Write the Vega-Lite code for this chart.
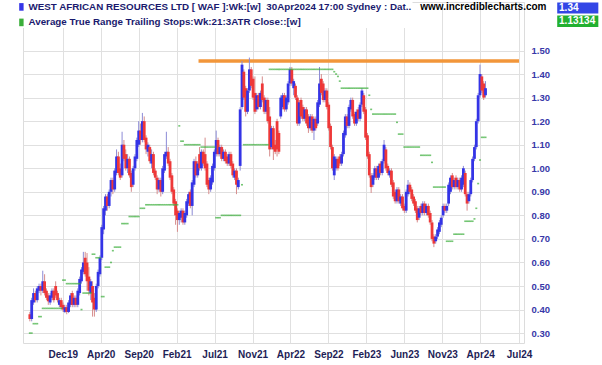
{
  "$schema": "https://vega.github.io/schema/vega-lite/v6.json",
  "width": 501,
  "height": 341,
  "autosize": "none",
  "padding": {"left": 23, "top": 2, "right": 78, "bottom": 22},
  "background": "white",
  "config": {
    "view": {"stroke": "#dcdcdc", "strokeWidth": 1},
    "font": "Liberation Sans",
    "axis": {"labelOverlap": false},
    "axisQuantitative": {"labelOverlap": false, "tickCount": 13}
  },
  "datasets": {
    "weekly": [
{"d":"2019-08-05","o":0.38,"h":0.39,"l":0.35,"c":0.36,"s":0.30},
{"d":"2019-08-12","o":0.36,"h":0.45,"l":0.35,"c":0.44,"s":0.30},
{"d":"2019-08-19","o":0.43,"h":0.49,"l":0.42,"c":0.47,"s":0.34},
{"d":"2019-08-26","o":0.47,"h":0.48,"l":0.43,"c":0.44,"s":0.34},
{"d":"2019-09-02","o":0.44,"h":0.50,"l":0.43,"c":0.49,"s":0.34},
{"d":"2019-09-09","o":0.48,"h":0.51,"l":0.47,"c":0.50,"s":0.37},
{"d":"2019-09-16","o":0.50,"h":0.51,"l":0.46,"c":0.48,"s":0.37},
{"d":"2019-09-23","o":0.48,"h":0.565,"l":0.47,"c":0.52,"s":0.405},
{"d":"2019-09-30","o":0.52,"h":0.55,"l":0.46,"c":0.47,"s":0.405},
{"d":"2019-10-07","o":0.48,"h":0.49,"l":0.44,"c":0.45,"s":0.405},
{"d":"2019-10-14","o":0.46,"h":0.47,"l":0.42,"c":0.435,"s":0.405},
{"d":"2019-10-21","o":0.43,"h":0.47,"l":0.42,"c":0.46,"s":0.405},
{"d":"2019-10-28","o":0.45,"h":0.49,"l":0.44,"c":0.48,"s":0.405},
{"d":"2019-11-04","o":0.48,"h":0.49,"l":0.43,"c":0.44,"s":0.405},
{"d":"2019-11-11","o":0.50,"h":0.52,"l":0.45,"c":0.46,"s":0.405},
{"d":"2019-11-18","o":0.47,"h":0.48,"l":0.43,"c":0.44,"s":0.405},
{"d":"2019-11-25","o":0.42,"h":0.45,"l":0.41,"c":0.44,"s":0.405},
{"d":"2019-12-02","o":0.44,"h":0.45,"l":0.40,"c":0.41,"s":0.405},
{"d":"2019-12-09","o":0.42,"h":0.43,"l":0.39,"c":0.40,"s":0.525},
{"d":"2019-12-16","o":0.39,"h":0.42,"l":0.385,"c":0.41,"s":0.525},
{"d":"2019-12-23","o":0.41,"h":0.42,"l":0.38,"c":0.39,"s":0.51},
{"d":"2019-12-30","o":0.39,"h":0.44,"l":0.385,"c":0.43,"s":0.51},
{"d":"2020-01-06","o":0.42,"h":0.47,"l":0.41,"c":0.46,"s":0.51},
{"d":"2020-01-13","o":0.47,"h":0.48,"l":0.41,"c":0.42,"s":0.51},
{"d":"2020-01-20","o":0.42,"h":0.46,"l":0.41,"c":0.45,"s":0.51},
{"d":"2020-01-27","o":0.45,"h":0.46,"l":0.41,"c":0.42,"s":0.51},
{"d":"2020-02-03","o":0.42,"h":0.49,"l":0.41,"c":0.48,"s":0.51},
{"d":"2020-02-10","o":0.47,"h":0.54,"l":0.46,"c":0.53,"s":0.51},
{"d":"2020-02-17","o":0.52,"h":0.58,"l":0.51,"c":0.57,"s":0.40},
{"d":"2020-02-24","o":0.56,"h":0.645,"l":0.55,"c":0.60,"s":0.47},
{"d":"2020-03-02","o":0.62,"h":0.645,"l":0.54,"c":0.55,"s":0.47},
{"d":"2020-03-09","o":0.60,"h":0.64,"l":0.48,"c":0.52,"s":0.47},
{"d":"2020-03-16","o":0.54,"h":0.58,"l":0.46,"c":0.48,"s":0.47},
{"d":"2020-03-23","o":0.47,"h":0.53,"l":0.44,"c":0.52,"s":0.47},
{"d":"2020-03-30","o":0.50,"h":0.52,"l":0.37,"c":0.43,"s":0.635},
{"d":"2020-04-06","o":0.45,"h":0.47,"l":0.37,"c":0.40,"s":0.635},
{"d":"2020-04-13","o":0.40,"h":0.51,"l":0.39,"c":0.50,"s":0.62},
{"d":"2020-04-20","o":0.50,"h":0.57,"l":0.49,"c":0.56,"s":0.62},
{"d":"2020-04-27","o":0.55,"h":0.63,"l":0.54,"c":0.62,"s":0.62},
{"d":"2020-05-04","o":0.62,"h":0.76,"l":0.61,"c":0.75,"s":0.455},
{"d":"2020-05-11","o":0.74,"h":0.84,"l":0.72,"c":0.83,"s":0.455},
{"d":"2020-05-18","o":0.82,"h":0.89,"l":0.80,"c":0.88,"s":0.58},
{"d":"2020-05-25","o":0.88,"h":0.89,"l":0.82,"c":0.84,"s":0.58},
{"d":"2020-06-01","o":0.84,"h":0.91,"l":0.83,"c":0.90,"s":0.58},
{"d":"2020-06-08","o":0.90,"h":0.96,"l":0.88,"c":0.95,"s":0.60},
{"d":"2020-06-15","o":0.95,"h":0.96,"l":0.89,"c":0.91,"s":0.65},
{"d":"2020-06-22","o":0.91,"h":1.00,"l":0.90,"c":0.99,"s":0.665},
{"d":"2020-06-29","o":0.98,"h":1.08,"l":0.97,"c":1.05,"s":0.665},
{"d":"2020-07-06","o":1.05,"h":1.07,"l":0.97,"c":0.98,"s":0.665},
{"d":"2020-07-13","o":1.00,"h":1.02,"l":0.95,"c":0.96,"s":0.665},
{"d":"2020-07-20","o":0.97,"h":1.155,"l":0.96,"c":1.10,"s":0.765},
{"d":"2020-07-27","o":1.10,"h":1.12,"l":1.03,"c":1.04,"s":0.765},
{"d":"2020-08-03","o":1.06,"h":1.08,"l":0.99,"c":1.00,"s":0.765},
{"d":"2020-08-10","o":1.00,"h":1.06,"l":0.98,"c":1.04,"s":0.765},
{"d":"2020-08-17","o":1.04,"h":1.05,"l":0.96,"c":0.97,"s":0.795},
{"d":"2020-08-24","o":0.98,"h":0.99,"l":0.90,"c":0.92,"s":0.795},
{"d":"2020-08-31","o":0.93,"h":1.01,"l":0.92,"c":1.00,"s":0.795},
{"d":"2020-09-07","o":1.00,"h":1.06,"l":0.99,"c":1.05,"s":0.795},
{"d":"2020-09-14","o":1.04,"h":1.13,"l":1.03,"c":1.12,"s":0.795},
{"d":"2020-09-21","o":1.10,"h":1.20,"l":1.09,"c":1.16,"s":0.795},
{"d":"2020-09-28","o":1.16,"h":1.19,"l":1.10,"c":1.12,"s":0.83},
{"d":"2020-10-05","o":1.12,"h":1.235,"l":1.11,"c":1.20,"s":0.83},
{"d":"2020-10-12","o":1.20,"h":1.22,"l":1.11,"c":1.12,"s":0.83},
{"d":"2020-10-19","o":1.13,"h":1.14,"l":1.06,"c":1.08,"s":0.845},
{"d":"2020-10-26","o":1.07,"h":1.11,"l":1.05,"c":1.10,"s":0.845},
{"d":"2020-11-02","o":1.09,"h":1.10,"l":1.02,"c":1.03,"s":0.845},
{"d":"2020-11-09","o":1.02,"h":1.08,"l":1.00,"c":1.06,"s":0.845},
{"d":"2020-11-16","o":1.06,"h":1.07,"l":0.97,"c":0.98,"s":0.845},
{"d":"2020-11-23","o":0.99,"h":1.00,"l":0.95,"c":0.96,"s":0.845},
{"d":"2020-11-30","o":0.96,"h":0.97,"l":0.89,"c":0.91,"s":0.845},
{"d":"2020-12-07","o":0.91,"h":0.96,"l":0.90,"c":0.95,"s":0.845},
{"d":"2020-12-14","o":0.95,"h":0.96,"l":0.88,"c":0.90,"s":0.845},
{"d":"2020-12-21","o":0.90,"h":1.01,"l":0.89,"c":1.00,"s":0.845},
{"d":"2020-12-28","o":0.99,"h":1.07,"l":0.98,"c":1.06,"s":0.845},
{"d":"2021-01-04","o":1.05,"h":1.155,"l":1.04,"c":1.07,"s":0.845},
{"d":"2021-01-11","o":1.07,"h":1.09,"l":1.01,"c":1.02,"s":0.845},
{"d":"2021-01-18","o":1.03,"h":1.04,"l":0.95,"c":0.96,"s":0.845},
{"d":"2021-01-25","o":0.97,"h":0.98,"l":0.89,"c":0.90,"s":0.845},
{"d":"2021-02-01","o":0.91,"h":0.92,"l":0.84,"c":0.85,"s":0.845},
{"d":"2021-02-08","o":0.86,"h":0.87,"l":0.76,"c":0.80,"s":0.845},
{"d":"2021-02-15","o":0.82,"h":0.83,"l":0.73,"c":0.78,"s":0.845},
{"d":"2021-02-22","o":0.78,"h":0.82,"l":0.76,"c":0.81,"s":1.18},
{"d":"2021-03-01","o":0.79,"h":0.83,"l":0.77,"c":0.82,"s":1.115},
{"d":"2021-03-08","o":0.82,"h":0.83,"l":0.76,"c":0.77,"s":1.115},
{"d":"2021-03-15","o":0.77,"h":0.82,"l":0.76,"c":0.81,"s":1.10},
{"d":"2021-03-22","o":0.80,"h":0.87,"l":0.79,"c":0.86,"s":1.10},
{"d":"2021-03-29","o":0.85,"h":0.90,"l":0.84,"c":0.89,"s":1.10},
{"d":"2021-04-05","o":0.90,"h":0.91,"l":0.83,"c":0.84,"s":1.10},
{"d":"2021-04-12","o":0.84,"h":0.95,"l":0.80,"c":0.94,"s":1.10},
{"d":"2021-04-19","o":0.93,"h":1.04,"l":0.92,"c":1.03,"s":1.10},
{"d":"2021-04-26","o":1.03,"h":1.05,"l":0.96,"c":0.97,"s":1.10},
{"d":"2021-05-03","o":0.97,"h":1.03,"l":0.96,"c":1.02,"s":1.10},
{"d":"2021-05-10","o":1.06,"h":1.09,"l":0.99,"c":1.00,"s":1.10},
{"d":"2021-05-17","o":1.00,"h":1.08,"l":0.99,"c":1.07,"s":1.09},
{"d":"2021-05-24","o":1.07,"h":1.08,"l":1.01,"c":1.02,"s":1.09},
{"d":"2021-05-31","o":1.06,"h":1.13,"l":0.99,"c":1.00,"s":1.09},
{"d":"2021-06-07","o":1.02,"h":1.03,"l":0.92,"c":0.93,"s":1.09},
{"d":"2021-06-14","o":0.95,"h":0.96,"l":0.89,"c":0.91,"s":1.09},
{"d":"2021-06-21","o":0.91,"h":0.97,"l":0.90,"c":0.96,"s":1.09},
{"d":"2021-06-28","o":0.94,"h":1.02,"l":0.93,"c":1.01,"s":1.09},
{"d":"2021-07-05","o":1.00,"h":1.08,"l":0.99,"c":1.07,"s":1.09},
{"d":"2021-07-12","o":1.06,"h":1.16,"l":1.05,"c":1.12,"s":0.79},
{"d":"2021-07-19","o":1.12,"h":1.13,"l":1.05,"c":1.06,"s":0.79},
{"d":"2021-07-26","o":1.06,"h":1.10,"l":1.05,"c":1.09,"s":0.79},
{"d":"2021-08-02","o":1.09,"h":1.10,"l":1.03,"c":1.04,"s":0.80},
{"d":"2021-08-09","o":1.04,"h":1.08,"l":1.03,"c":1.07,"s":0.80},
{"d":"2021-08-16","o":1.07,"h":1.08,"l":1.02,"c":1.03,"s":0.80},
{"d":"2021-08-23","o":1.05,"h":1.06,"l":1.01,"c":1.02,"s":0.80},
{"d":"2021-08-30","o":1.02,"h":1.07,"l":1.01,"c":1.06,"s":0.80},
{"d":"2021-09-06","o":1.06,"h":1.07,"l":1.00,"c":1.01,"s":0.80},
{"d":"2021-09-13","o":1.02,"h":1.03,"l":0.96,"c":0.97,"s":0.80},
{"d":"2021-09-20","o":0.96,"h":1.00,"l":0.95,"c":0.99,"s":0.80},
{"d":"2021-09-27","o":0.99,"h":1.00,"l":0.89,"c":0.93,"s":0.80},
{"d":"2021-10-04","o":0.92,"h":0.96,"l":0.91,"c":0.95,"s":0.80},
{"d":"2021-10-11","o":1.01,"h":1.26,"l":0.99,"c":1.25,"s":0.80},
{"d":"2021-10-18","o":1.26,"h":1.455,"l":1.25,"c":1.44,"s":0.93},
{"d":"2021-10-25","o":1.41,"h":1.42,"l":1.29,"c":1.30,"s":1.10},
{"d":"2021-11-01","o":1.34,"h":1.35,"l":1.22,"c":1.24,"s":1.10},
{"d":"2021-11-08","o":1.24,"h":1.34,"l":1.23,"c":1.33,"s":1.10},
{"d":"2021-11-15","o":1.33,"h":1.47,"l":1.32,"c":1.42,"s":1.10},
{"d":"2021-11-22","o":1.42,"h":1.43,"l":1.34,"c":1.35,"s":1.10},
{"d":"2021-11-29","o":1.38,"h":1.39,"l":1.29,"c":1.30,"s":1.10},
{"d":"2021-12-06","o":1.32,"h":1.39,"l":1.23,"c":1.24,"s":1.10},
{"d":"2021-12-13","o":1.25,"h":1.32,"l":1.24,"c":1.31,"s":1.10},
{"d":"2021-12-20","o":1.31,"h":1.32,"l":1.25,"c":1.26,"s":1.10},
{"d":"2021-12-27","o":1.26,"h":1.33,"l":1.25,"c":1.32,"s":1.10},
{"d":"2022-01-03","o":1.36,"h":1.39,"l":1.28,"c":1.29,"s":1.10},
{"d":"2022-01-10","o":1.30,"h":1.31,"l":1.23,"c":1.24,"s":1.10},
{"d":"2022-01-17","o":1.24,"h":1.30,"l":1.23,"c":1.29,"s":1.10},
{"d":"2022-01-24","o":1.29,"h":1.30,"l":1.19,"c":1.20,"s":1.10},
{"d":"2022-01-31","o":1.22,"h":1.26,"l":1.05,"c":1.08,"s":1.42},
{"d":"2022-02-07","o":1.09,"h":1.18,"l":1.08,"c":1.17,"s":1.42},
{"d":"2022-02-14","o":1.17,"h":1.18,"l":1.035,"c":1.08,"s":1.42},
{"d":"2022-02-21","o":1.10,"h":1.12,"l":1.06,"c":1.07,"s":1.42},
{"d":"2022-02-28","o":1.20,"h":1.21,"l":1.05,"c":1.08,"s":1.42},
{"d":"2022-03-07","o":1.15,"h":1.16,"l":1.06,"c":1.07,"s":1.42},
{"d":"2022-03-14","o":1.22,"h":1.31,"l":1.21,"c":1.30,"s":1.42},
{"d":"2022-03-21","o":1.26,"h":1.32,"l":1.25,"c":1.31,"s":1.42},
{"d":"2022-03-28","o":1.31,"h":1.32,"l":1.24,"c":1.25,"s":1.42},
{"d":"2022-04-04","o":1.25,"h":1.31,"l":1.24,"c":1.30,"s":1.42},
{"d":"2022-04-11","o":1.28,"h":1.37,"l":1.27,"c":1.36,"s":1.42},
{"d":"2022-04-18","o":1.36,"h":1.43,"l":1.35,"c":1.42,"s":1.42},
{"d":"2022-04-25","o":1.42,"h":1.43,"l":1.35,"c":1.36,"s":1.42},
{"d":"2022-05-02","o":1.34,"h":1.38,"l":1.31,"c":1.37,"s":1.42},
{"d":"2022-05-09","o":1.35,"h":1.36,"l":1.29,"c":1.30,"s":1.42},
{"d":"2022-05-16","o":1.30,"h":1.31,"l":1.18,"c":1.19,"s":1.42},
{"d":"2022-05-23","o":1.19,"h":1.29,"l":1.18,"c":1.28,"s":1.42},
{"d":"2022-05-30","o":1.29,"h":1.30,"l":1.21,"c":1.22,"s":1.42},
{"d":"2022-06-06","o":1.26,"h":1.27,"l":1.20,"c":1.21,"s":1.42},
{"d":"2022-06-13","o":1.21,"h":1.26,"l":1.20,"c":1.25,"s":1.42},
{"d":"2022-06-20","o":1.25,"h":1.26,"l":1.18,"c":1.19,"s":1.42},
{"d":"2022-06-27","o":1.22,"h":1.23,"l":1.15,"c":1.17,"s":1.42},
{"d":"2022-07-04","o":1.17,"h":1.23,"l":1.16,"c":1.22,"s":1.42},
{"d":"2022-07-11","o":1.22,"h":1.23,"l":1.15,"c":1.16,"s":1.42},
{"d":"2022-07-18","o":1.16,"h":1.22,"l":1.12,"c":1.21,"s":1.42},
{"d":"2022-07-25","o":1.21,"h":1.22,"l":1.16,"c":1.17,"s":1.42},
{"d":"2022-08-01","o":1.19,"h":1.29,"l":1.18,"c":1.28,"s":1.42},
{"d":"2022-08-08","o":1.27,"h":1.43,"l":1.26,"c":1.36,"s":1.42},
{"d":"2022-08-15","o":1.38,"h":1.40,"l":1.31,"c":1.32,"s":1.42},
{"d":"2022-08-22","o":1.36,"h":1.37,"l":1.28,"c":1.29,"s":1.42},
{"d":"2022-08-29","o":1.29,"h":1.34,"l":1.28,"c":1.33,"s":1.42},
{"d":"2022-09-05","o":1.33,"h":1.34,"l":1.25,"c":1.26,"s":1.42},
{"d":"2022-09-12","o":1.27,"h":1.28,"l":1.16,"c":1.17,"s":1.42},
{"d":"2022-09-19","o":1.18,"h":1.19,"l":1.08,"c":1.09,"s":1.42},
{"d":"2022-09-26","o":1.09,"h":1.10,"l":0.99,"c":1.00,"s":1.42},
{"d":"2022-10-03","o":0.97,"h":1.06,"l":0.95,"c":1.05,"s":1.41},
{"d":"2022-10-10","o":1.00,"h":1.05,"l":0.99,"c":1.04,"s":1.40},
{"d":"2022-10-17","o":1.04,"h":1.05,"l":0.99,"c":1.00,"s":1.39},
{"d":"2022-10-24","o":1.05,"h":1.06,"l":1.01,"c":1.02,"s":1.37},
{"d":"2022-10-31","o":1.02,"h":1.07,"l":1.01,"c":1.06,"s":1.34},
{"d":"2022-11-07","o":1.06,"h":1.16,"l":1.05,"c":1.15,"s":1.34},
{"d":"2022-11-14","o":1.14,"h":1.23,"l":1.13,"c":1.22,"s":1.34},
{"d":"2022-11-21","o":1.22,"h":1.23,"l":1.17,"c":1.18,"s":1.34},
{"d":"2022-11-28","o":1.18,"h":1.27,"l":1.17,"c":1.26,"s":1.34},
{"d":"2022-12-05","o":1.25,"h":1.30,"l":1.24,"c":1.29,"s":1.34},
{"d":"2022-12-12","o":1.29,"h":1.30,"l":1.21,"c":1.22,"s":1.34},
{"d":"2022-12-19","o":1.23,"h":1.24,"l":1.18,"c":1.19,"s":1.34},
{"d":"2022-12-26","o":1.19,"h":1.25,"l":1.18,"c":1.24,"s":1.34},
{"d":"2023-01-02","o":1.25,"h":1.26,"l":1.20,"c":1.21,"s":1.34},
{"d":"2023-01-09","o":1.21,"h":1.28,"l":1.20,"c":1.27,"s":1.34},
{"d":"2023-01-16","o":1.27,"h":1.34,"l":1.26,"c":1.33,"s":1.34},
{"d":"2023-01-23","o":1.31,"h":1.32,"l":1.23,"c":1.24,"s":1.34},
{"d":"2023-01-30","o":1.25,"h":1.26,"l":1.12,"c":1.13,"s":1.34},
{"d":"2023-02-06","o":1.14,"h":1.15,"l":1.04,"c":1.05,"s":1.34},
{"d":"2023-02-13","o":1.06,"h":1.07,"l":0.96,"c":0.97,"s":1.31},
{"d":"2023-02-20","o":0.97,"h":0.98,"l":0.895,"c":0.92,"s":1.25},
{"d":"2023-02-27","o":0.93,"h":0.98,"l":0.92,"c":0.97,"s":1.23},
{"d":"2023-03-06","o":0.96,"h":1.01,"l":0.95,"c":1.00,"s":1.23},
{"d":"2023-03-13","o":1.00,"h":1.01,"l":0.95,"c":0.96,"s":1.23},
{"d":"2023-03-20","o":0.96,"h":1.02,"l":0.95,"c":1.01,"s":1.23},
{"d":"2023-03-27","o":1.02,"h":1.03,"l":0.97,"c":0.98,"s":1.23},
{"d":"2023-04-03","o":0.98,"h":1.04,"l":0.97,"c":1.03,"s":1.23},
{"d":"2023-04-10","o":1.03,"h":1.12,"l":1.02,"c":1.10,"s":1.23},
{"d":"2023-04-17","o":1.08,"h":1.09,"l":0.99,"c":1.00,"s":1.23},
{"d":"2023-04-24","o":1.01,"h":1.02,"l":0.97,"c":0.98,"s":1.23},
{"d":"2023-05-01","o":0.97,"h":1.00,"l":0.96,"c":0.99,"s":1.23},
{"d":"2023-05-08","o":0.99,"h":1.00,"l":0.92,"c":0.93,"s":1.23},
{"d":"2023-05-15","o":0.94,"h":0.95,"l":0.87,"c":0.88,"s":1.23},
{"d":"2023-05-22","o":0.90,"h":0.91,"l":0.85,"c":0.86,"s":1.23},
{"d":"2023-05-29","o":0.86,"h":0.92,"l":0.85,"c":0.91,"s":1.195},
{"d":"2023-06-05","o":0.91,"h":0.92,"l":0.85,"c":0.86,"s":1.145},
{"d":"2023-06-12","o":0.85,"h":0.89,"l":0.84,"c":0.88,"s":1.145},
{"d":"2023-06-19","o":0.88,"h":0.89,"l":0.82,"c":0.83,"s":1.145},
{"d":"2023-06-26","o":0.84,"h":0.85,"l":0.81,"c":0.82,"s":1.09},
{"d":"2023-07-03","o":0.82,"h":0.91,"l":0.81,"c":0.90,"s":1.09},
{"d":"2023-07-10","o":0.89,"h":0.95,"l":0.88,"c":0.93,"s":1.09},
{"d":"2023-07-17","o":0.93,"h":0.94,"l":0.89,"c":0.90,"s":1.09},
{"d":"2023-07-24","o":0.91,"h":0.92,"l":0.86,"c":0.87,"s":1.09},
{"d":"2023-07-31","o":0.88,"h":0.89,"l":0.84,"c":0.85,"s":1.09},
{"d":"2023-08-07","o":0.86,"h":0.87,"l":0.81,"c":0.82,"s":1.09},
{"d":"2023-08-14","o":0.83,"h":0.84,"l":0.77,"c":0.78,"s":1.09},
{"d":"2023-08-21","o":0.79,"h":0.84,"l":0.78,"c":0.83,"s":1.09},
{"d":"2023-08-28","o":0.84,"h":0.85,"l":0.80,"c":0.81,"s":1.055},
{"d":"2023-09-04","o":0.81,"h":0.86,"l":0.80,"c":0.85,"s":1.055},
{"d":"2023-09-11","o":0.85,"h":0.86,"l":0.80,"c":0.81,"s":1.055},
{"d":"2023-09-18","o":0.81,"h":0.85,"l":0.80,"c":0.84,"s":1.055},
{"d":"2023-09-25","o":0.84,"h":0.85,"l":0.79,"c":0.80,"s":1.055},
{"d":"2023-10-02","o":0.81,"h":0.82,"l":0.76,"c":0.77,"s":1.055},
{"d":"2023-10-09","o":0.77,"h":0.78,"l":0.69,"c":0.70,"s":1.025},
{"d":"2023-10-16","o":0.71,"h":0.72,"l":0.665,"c":0.68,"s":0.92},
{"d":"2023-10-23","o":0.69,"h":0.72,"l":0.68,"c":0.71,"s":0.92},
{"d":"2023-10-30","o":0.71,"h":0.75,"l":0.70,"c":0.74,"s":0.92},
{"d":"2023-11-06","o":0.73,"h":0.78,"l":0.72,"c":0.77,"s":0.92},
{"d":"2023-11-13","o":0.76,"h":0.80,"l":0.75,"c":0.79,"s":0.92},
{"d":"2023-11-20","o":0.80,"h":0.85,"l":0.79,"c":0.84,"s":0.92},
{"d":"2023-11-27","o":0.84,"h":0.85,"l":0.81,"c":0.82,"s":0.92},
{"d":"2023-12-04","o":0.82,"h":0.85,"l":0.81,"c":0.84,"s":0.69},
{"d":"2023-12-11","o":0.85,"h":0.94,"l":0.84,"c":0.93,"s":0.69},
{"d":"2023-12-18","o":0.90,"h":0.97,"l":0.89,"c":0.96,"s":0.69},
{"d":"2023-12-25","o":0.97,"h":0.98,"l":0.91,"c":0.92,"s":0.69},
{"d":"2024-01-01","o":0.92,"h":0.96,"l":0.91,"c":0.95,"s":0.72},
{"d":"2024-01-08","o":0.96,"h":0.97,"l":0.91,"c":0.92,"s":0.72},
{"d":"2024-01-15","o":0.92,"h":0.96,"l":0.91,"c":0.95,"s":0.72},
{"d":"2024-01-22","o":0.95,"h":0.96,"l":0.90,"c":0.91,"s":0.72},
{"d":"2024-01-29","o":0.91,"h":0.97,"l":0.90,"c":0.96,"s":0.72},
{"d":"2024-02-05","o":0.93,"h":1.01,"l":0.92,"c":1.00,"s":0.72},
{"d":"2024-02-12","o":0.98,"h":0.99,"l":0.88,"c":0.89,"s":0.775},
{"d":"2024-02-19","o":0.89,"h":0.90,"l":0.82,"c":0.85,"s":0.775},
{"d":"2024-02-26","o":0.86,"h":0.90,"l":0.85,"c":0.89,"s":0.775},
{"d":"2024-03-04","o":0.89,"h":0.96,"l":0.88,"c":0.95,"s":0.775},
{"d":"2024-03-11","o":0.95,"h":1.05,"l":0.94,"c":1.04,"s":0.775},
{"d":"2024-03-18","o":1.04,"h":1.10,"l":1.03,"c":1.09,"s":0.785},
{"d":"2024-03-25","o":1.09,"h":1.21,"l":1.08,"c":1.20,"s":0.83},
{"d":"2024-04-01","o":1.20,"h":1.32,"l":1.19,"c":1.31,"s":0.935},
{"d":"2024-04-08","o":1.31,"h":1.44,"l":1.30,"c":1.40,"s":1.035},
{"d":"2024-04-15","o":1.39,"h":1.40,"l":1.32,"c":1.33,"s":1.1313},
{"d":"2024-04-22","o":1.36,"h":1.37,"l":1.29,"c":1.30,"s":1.1313},
{"d":"2024-04-29","o":1.31,"h":1.37,"l":1.30,"c":1.34,"s":1.13134}
    ],
    "resistance": [
      {"from": "2021-05-06", "to": "2024-09-03", "level": 1.4555}
    ],
    "one": [{}]
  },
  "layer": [
    {
      "data": {"name": "resistance"},
      "mark": {"type": "rule", "color": "#f2963a", "strokeWidth": 3.5},
      "encoding": {
        "x": {
          "field": "from", "type": "temporal",
          "scale": {"domain": [{"year": 2019, "month": 7, "date": 29}, {"year": 2024, "month": 9, "date": 3}]},
          "axis": {
            "title": null,
            "values": [
              {"year": 2019, "month": 12, "date": 8},
              {"year": 2020, "month": 4, "date": 30},
              {"year": 2020, "month": 9, "date": 21},
              {"year": 2021, "month": 2, "date": 12},
              {"year": 2021, "month": 7, "date": 6},
              {"year": 2021, "month": 11, "date": 27},
              {"year": 2022, "month": 4, "date": 20},
              {"year": 2022, "month": 9, "date": 11},
              {"year": 2023, "month": 2, "date": 2},
              {"year": 2023, "month": 6, "date": 26},
              {"year": 2023, "month": 11, "date": 17},
              {"year": 2024, "month": 4, "date": 9},
              {"year": 2024, "month": 9, "date": 3}
            ],
            "labelExpr": "year(datum.value) == 2024 && month(datum.value) == 8 ? 'Jul24' : timeFormat(datum.value, '%b%y')",
            "labelFont": "Liberation Sans",
            "labelFontSize": 10,
            "labelFontWeight": "bold",
            "labelColor": "#1e1e56",
            "labelPadding": 6,
            "labelFlush": false,
            "labelOverlap": false,
            "ticks": false,
            "domain": false,
            "grid": true,
            "gridColor": "#e0e0e0",
            "gridWidth": 1
          }
        },
        "x2": {"field": "to"},
        "y": {
          "field": "level", "type": "quantitative",
          "scale": {"domain": [0.258, 1.706], "nice": false, "zero": false},
          "axis": {"title": null, "orient": "right", "values": [0.3, 0.4, 0.5, 0.6, 0.7, 0.8, 0.9, 1.0, 1.1, 1.2, 1.3, 1.4, 1.5], "format": ".2f", "labelFont": "Liberation Sans", "labelFontSize": 9.5, "labelFontWeight": "bold", "labelColor": "#3838a8", "labelPadding": 7, "labelOverlap": false, "labelFlush": false, "labelBound": false, "labelSeparation": -30, "ticks": false, "domain": false, "grid": true, "gridColor": "#e0e0e0", "gridWidth": 1}
        }
      }
    },
    {
      "data": {"name": "weekly"},
      "mark": {"type": "rule", "strokeWidth": 1},
      "encoding": {
        "x": {"field": "d", "type": "temporal"},
        "y": {"field": "l", "type": "quantitative",
          "axis": {"title": null, "orient": "right", "values": [0.3, 0.4, 0.5, 0.6, 0.7, 0.8, 0.9, 1.0, 1.1, 1.2, 1.3, 1.4, 1.5], "format": ".2f", "labelFont": "Liberation Sans", "labelFontSize": 9.5, "labelFontWeight": "bold", "labelColor": "#3838a8", "labelPadding": 7, "labelOverlap": false, "labelFlush": false, "labelBound": false, "labelSeparation": -30, "ticks": false, "domain": false, "grid": true, "gridColor": "#e0e0e0", "gridWidth": 1}},
        "y2": {"field": "h"},
        "color": {"condition": {"test": "datum.c >= datum.o", "value": "#8c8ad6"}, "value": "#d68c8c"}
      }
    },
    {
      "data": {"name": "weekly"},
      "mark": {"type": "bar", "width": 2.8},
      "encoding": {
        "x": {"field": "d", "type": "temporal"},
        "y": {"field": "o", "type": "quantitative",
          "axis": {"title": null, "orient": "right", "values": [0.3, 0.4, 0.5, 0.6, 0.7, 0.8, 0.9, 1.0, 1.1, 1.2, 1.3, 1.4, 1.5], "format": ".2f", "labelFont": "Liberation Sans", "labelFontSize": 9.5, "labelFontWeight": "bold", "labelColor": "#3838a8", "labelPadding": 7, "labelOverlap": false, "labelFlush": false, "labelBound": false, "labelSeparation": -30, "ticks": false, "domain": false, "grid": true, "gridColor": "#e0e0e0", "gridWidth": 1}},
        "y2": {"field": "c"},
        "color": {"condition": {"test": "datum.c >= datum.o", "value": "#3434e6"}, "value": "#ee3838"}
      }
    },
    {
      "data": {"name": "weekly"},
      "mark": {"type": "tick", "orient": "horizontal", "size": 2.0, "thickness": 1.6},
      "encoding": {
        "x": {"field": "d", "type": "temporal"},
        "y": {"field": "s", "type": "quantitative",
          "axis": {"title": null, "orient": "right", "values": [0.3, 0.4, 0.5, 0.6, 0.7, 0.8, 0.9, 1.0, 1.1, 1.2, 1.3, 1.4, 1.5], "format": ".2f", "labelFont": "Liberation Sans", "labelFontSize": 9.5, "labelFontWeight": "bold", "labelColor": "#3838a8", "labelPadding": 7, "labelOverlap": false, "labelFlush": false, "labelBound": false, "labelSeparation": -30, "ticks": false, "domain": false, "grid": true, "gridColor": "#e0e0e0", "gridWidth": 1}},
        "color": {
          "datum": "Average True Range Trailing Stops:Wk:21:3ATR Close::[w]",
          "type": "nominal",
          "scale": {
            "domain": ["WEST AFRICAN RESOURCES LTD [ WAF ]:Wk:[w] \u00a030Apr2024 17:00 Sydney : Dat..", "Average True Range Trailing Stops:Wk:21:3ATR Close::[w]"],
            "range": ["#3434e8", "#3aae3a"]
          },
          "legend": {
            "title": null,
            "orient": "none",
            "legendX": -6.5,
            "legendY": 0,
            "padding": 0,
            "fillColor": "white",
            "symbolType": "M-0.55,-0.95L0.55,-0.95L0.55,0.95L-0.55,0.95Z",
            "symbolSize": 64,
            "symbolStrokeWidth": 0,
            "symbolOpacity": 1,
            "labelOffset": 2.2,
            "labelFont": "Liberation Sans",
            "labelFontSize": 9.8,
            "labelFontWeight": "bold",
            "labelColor": "#1a1a6e",
            "labelLimit": 600,
            "rowPadding": 4.5
          }
        }
      }
    },
    {
      "data": {"name": "one"},
      "mark": {"type": "text", "align": "left", "baseline": "middle", "font": "Liberation Sans", "fontSize": 10, "fontWeight": "bold", "color": "#000000"},
      "encoding": {
        "x": {"datum": {"year": 2023, "month": 8, "date": 25}, "type": "temporal"},
        "y": {"datum": 1.6835, "type": "quantitative"},
        "text": {"value": "www.incrediblecharts.com"}
      }
    },
    {
      "data": {"name": "one"},
      "mark": {"type": "rect", "color": "#3246e6"},
      "encoding": {
        "x": {"datum": {"year": 2025, "month": 1, "date": 26}, "type": "temporal"},
        "x2": {"datum": {"year": 2025, "month": 7, "date": 1}},
        "y": {"datum": 1.7039, "type": "quantitative"},
        "y2": {"datum": 1.6572}
      }
    },
    {
      "data": {"name": "one"},
      "mark": {"type": "rect", "color": "#22b030"},
      "encoding": {
        "x": {"datum": {"year": 2025, "month": 1, "date": 26}, "type": "temporal"},
        "x2": {"datum": {"year": 2025, "month": 7, "date": 1}},
        "y": {"datum": 1.6487, "type": "quantitative"},
        "y2": {"datum": 1.6000}
      }
    },
    {
      "data": {"name": "one"},
      "mark": {"type": "text", "align": "left", "baseline": "middle", "font": "Liberation Sans", "fontSize": 10, "fontWeight": "bold", "color": "white"},
      "encoding": {
        "x": {"datum": {"year": 2025, "month": 2, "date": 2}, "type": "temporal"},
        "y": {"datum": 1.6805, "type": "quantitative"},
        "text": {"value": "1.34"}
      }
    },
    {
      "data": {"name": "one"},
      "mark": {"type": "text", "align": "left", "baseline": "middle", "font": "Liberation Sans", "fontSize": 10, "fontWeight": "bold", "color": "white"},
      "encoding": {
        "x": {"datum": {"year": 2025, "month": 2, "date": 2}, "type": "temporal"},
        "y": {"datum": 1.624, "type": "quantitative"},
        "text": {"value": "1.13134"}
      }
    }
  ]
}
